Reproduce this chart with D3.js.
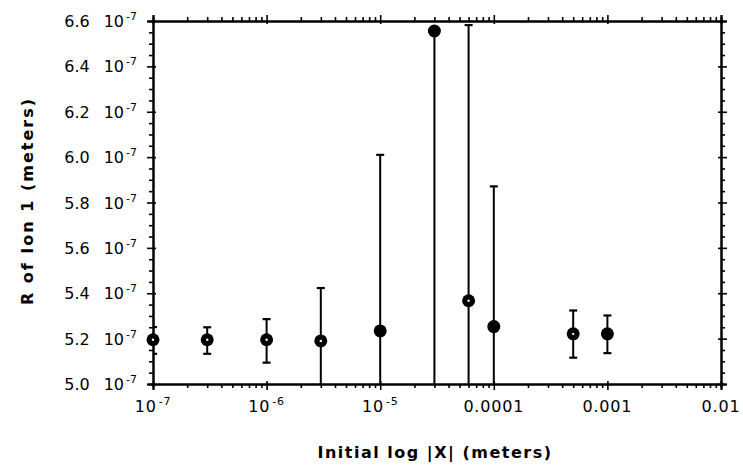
<!DOCTYPE html>
<html>
<head>
<meta charset="utf-8">
<script src="https://cdn.jsdelivr.net/npm/d3@7"></script>
<style>
  body { margin: 0; background: #fff; }
  svg { font-family: "DejaVu Sans", sans-serif; }
</style>
</head>
<body>
<script>
// initial |X| (meters) and R of ion 1 (units of 1e-7 m)
var xVals   = [1e-7, 3e-7, 1e-6, 3e-6, 1e-5, 3e-5, 6e-5, 1e-4, 5e-4, 1e-3]
var rVals   = [5.195, 5.195, 5.195, 5.19, 5.234, 6.556, 5.367, 5.253, 5.221, 5.221]
var errHigh = [5.251, 5.25, 5.286, 5.423, 6.01, 6.56, 6.582, 5.871, 5.324, 5.302]
var errLow  = [5.133, 5.133, 5.094, 4.9, 4.9, 4.9, 4.9, 4.9, 5.116, 5.136]
// markers drawn with a light centre in the original
var lightCentre = [true, true, true, true, false, false, true, false, true, false]

var xTicks = [1e-7, 1e-6, 1e-5, 1e-4, 1e-3, 1e-2]
var xTickLabels = ["10^-7", "10^-6", "10^-5", "0.0001", "0.001", "0.01"]
var yTicks = [5.0, 5.2, 5.4, 5.6, 5.8, 6.0, 6.2, 6.4, 6.6]
var yTickLabels = ["5.0 10^-7", "5.2 10^-7", "5.4 10^-7", "5.6 10^-7", "5.8 10^-7", "6.0 10^-7", "6.2 10^-7", "6.4 10^-7", "6.6 10^-7"]

var W = 743, H = 471
var margin = {top: 21, right: 22, bottom: 87, left: 153}
var width = W - margin.left - margin.right,
    height = H - margin.top - margin.bottom

var x = d3.scaleLog().domain([1e-7, 1e-2]).range([0, width])
var y = d3.scaleLinear().domain([5.0, 6.6]).range([height, 0])

var svg = d3.select("body").append("svg").attr("width", W).attr("height", H)
var g = svg.append("g").attr("transform", "translate(" + margin.left + "," + margin.top + ")")

g.append("clipPath").attr("id", "clip").append("rect")
    .attr("width", width).attr("height", height)

// minor ticks
var xMinor = []
for (var e = -7; e < -2; e++) for (var m = 2; m <= 9; m++) xMinor.push(m * Math.pow(10, e))
var yMinor = d3.range(5.0, 6.6001, 0.05).filter(function (v) {
    return Math.abs(v * 5 - Math.round(v * 5)) > 1e-6
})

function sideAxis(axisFn, scale, values, size, tr) {
    return g.append("g").attr("transform", tr)
        .call(axisFn(scale).tickValues(values).tickSize(size).tickFormat(""))
}

function styleAxis(sel) {
    sel.select(".domain").attr("stroke", "#000").attr("stroke-width", 2)
    sel.selectAll(".tick line").attr("stroke", "#000").attr("stroke-width", 1.6)
}

// bottom
var bMin = sideAxis(d3.axisBottom, x, xMinor, 4, "translate(0," + height + ")")
var bMaj = sideAxis(d3.axisBottom, x, xTicks, 6, "translate(0," + height + ")")
bMaj.selectAll(".tick line").attr("y1", -3)
// top
var tMin = sideAxis(d3.axisTop, x, xMinor, 4, "translate(0,0)")
var tMaj = sideAxis(d3.axisTop, x, xTicks, 6, "translate(0,0)")
tMaj.selectAll(".tick line").attr("y1", 3)
// left
var lMin = sideAxis(d3.axisLeft, y, yMinor, 4, "translate(0,0)")
var lMaj = sideAxis(d3.axisLeft, y, yTicks, 6, "translate(0,0)")
lMaj.selectAll(".tick line").attr("x1", 3)
// right
var rMin = sideAxis(d3.axisRight, y, yMinor, 4, "translate(" + width + ",0)")
var rMaj = sideAxis(d3.axisRight, y, yTicks, 6, "translate(" + width + ",0)")
rMaj.selectAll(".tick line").attr("x1", -3)

;[bMin, bMaj, tMin, tMaj, lMin, lMaj, rMin, rMaj].forEach(styleAxis)

// text with "^" exponent; a space becomes a wider gap
function supText(sel, str) {
    var parts = str.split("^")
    var words = parts[0].split(" ")
    words.forEach(function (w, k) {
        sel.append("tspan").attr("dx", k > 0 ? 14 : 0).text(w)
    })
    if (parts.length > 1) {
        sel.append("tspan").attr("dx", 2).attr("dy", -7).attr("font-size", 11).text(parts[1])
    }
}

g.selectAll(".ylab").data(yTicks).enter().append("text")
    .attr("class", "ylab")
    .attr("x", -16)
    .attr("y", function (d) { return y(d) + 6 })
    .attr("text-anchor", "end")
    .attr("font-size", 16)
    .each(function (d, i) { supText(d3.select(this), yTickLabels[i]) })

g.selectAll(".xlab").data(xTicks).enter().append("text")
    .attr("class", "xlab")
    .attr("x", function (d) { return x(d) })
    .attr("y", height + 28)
    .attr("text-anchor", "middle")
    .attr("font-size", 16)
    .attr("letter-spacing", 0.8)
    .each(function (d, i) { supText(d3.select(this), xTickLabels[i]) })

// axis titles
svg.append("text")
    .attr("x", 435).attr("y", 458)
    .attr("text-anchor", "middle")
    .attr("font-size", 16)
    .attr("font-weight", "bold")
    .attr("letter-spacing", 1.5)
    .text("Initial log |X| (meters)")

svg.append("text")
    .attr("transform", "translate(33,201) rotate(-90)")
    .attr("text-anchor", "middle")
    .attr("font-size", 16)
    .attr("font-weight", "bold")
    .attr("letter-spacing", 2)
    .text("R of Ion 1 (meters)")

// error bars
var idx = d3.range(xVals.length)
var bars = g.append("g").attr("clip-path", "url(#clip)")
bars.selectAll(".err").data(idx).enter().append("line")
    .attr("x1", function (i) { return x(xVals[i]) })
    .attr("x2", function (i) { return x(xVals[i]) })
    .attr("y1", function (i) { return y(errLow[i]) })
    .attr("y2", function (i) { return y(errHigh[i]) })
    .attr("stroke", "#000").attr("stroke-width", 2)

var caps = []
idx.forEach(function (i) {
    if (errHigh[i] <= 6.6 && errHigh[i] - rVals[i] > 0.02) caps.push({i: i, v: errHigh[i]})
    if (errLow[i] >= 5.0) caps.push({i: i, v: errLow[i]})
})
bars.selectAll(".cap").data(caps).enter().append("line")
    .attr("x1", function (c) { return x(xVals[c.i]) - 4 })
    .attr("x2", function (c) { return x(xVals[c.i]) + 4 })
    .attr("y1", function (c) { return y(c.v) })
    .attr("y2", function (c) { return y(c.v) })
    .attr("stroke", "#000").attr("stroke-width", 2.2)

// markers
g.selectAll(".pt").data(idx).enter().append("circle")
    .attr("cx", function (i) { return x(xVals[i]) })
    .attr("cy", function (i) { return y(rVals[i]) })
    .attr("r", 6.5)
    .attr("fill", "#000")

g.selectAll(".dot").data(idx.filter(function (i) { return lightCentre[i] })).enter().append("circle")
    .attr("cx", function (i) { return x(xVals[i]) })
    .attr("cy", function (i) { return y(rVals[i]) })
    .attr("r", 1.2)
    .attr("fill", "#fff")
</script>
</body>
</html>
